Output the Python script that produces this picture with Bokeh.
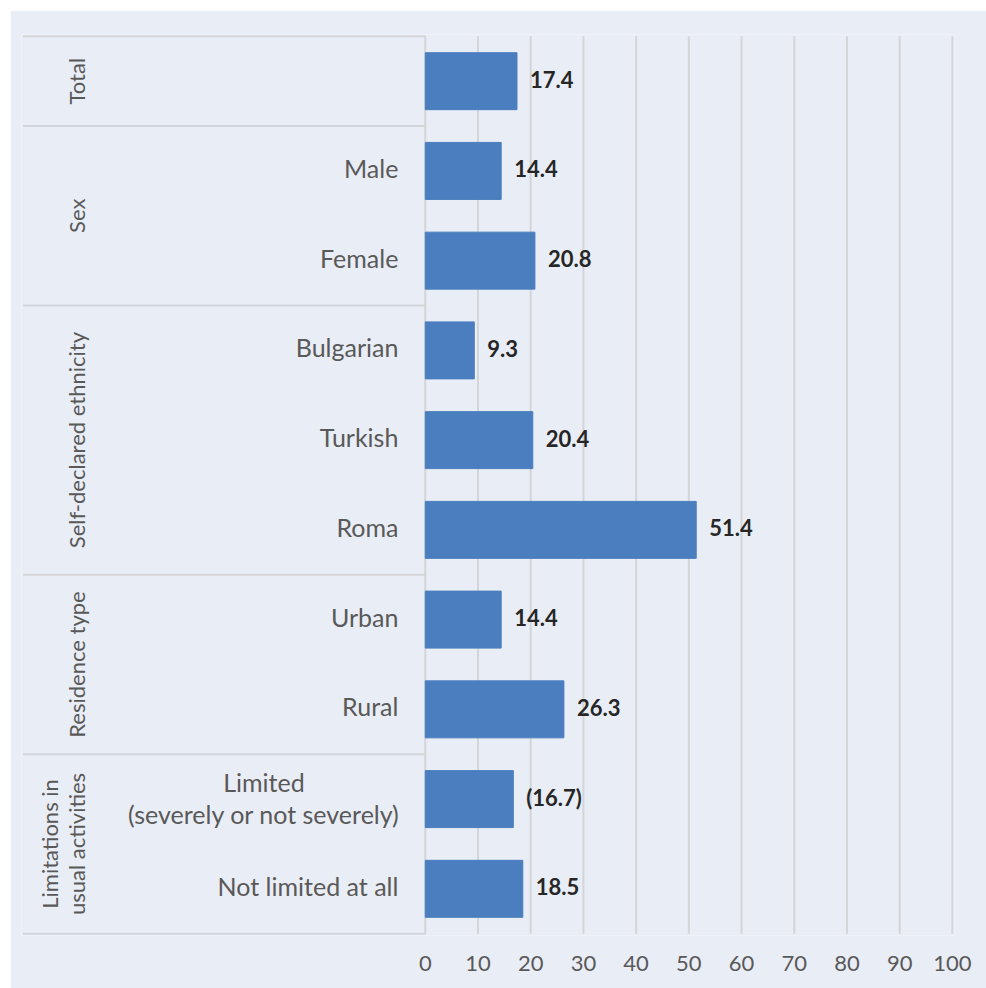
import math
from bokeh.plotting import figure
from bokeh.models import Range1d, FixedTicker
from bokeh.core.properties import value
from bokeh.embed import file_html
from bokeh.resources import INLINE

# ---- data ----
groups = ["Total", "Sex", "Self-declared ethnicity", "Residence type",
          "Limitations in\nusual activities"]
group_sizes = [1, 2, 3, 2, 2]
categories = ["", "Male", "Female", "Bulgarian", "Turkish", "Roma", "Urban", "Rural",
              "Limited\n(severely or not severely)", "Not limited at all"]
values = [17.4, 14.4, 20.8, 9.3, 20.4, 51.4, 14.4, 26.3, 16.7, 18.5]
low_reliability = [False, False, False, False, False, False, False, False, True, False]
x_ticks = [0, 10, 20, 30, 40, 50, 60, 70, 80, 90, 100]

# ---- style ----
BG = "#E9EDF5"
BAR = "#4A7EBF"
GRID = "#D3D5D9"
TXT = "#595959"
VAL = "#262626"
FONT = "Lato"

n = len(categories)
ys = [i + 0.5 for i in range(n)]
labels = [("(%.1f)" % v) if lr else ("%.1f" % v) for v, lr in zip(values, low_reliability)]

bounds = [0]
for s in group_sizes:
    bounds.append(bounds[-1] + s)
centers = [(bounds[i] + bounds[i + 1]) / 2 for i in range(len(group_sizes))]

X_START = -76.6
SEP_X0 = -76.3
CAT_X = -5.1          # right edge of category labels
CAT_X_MULTI = -30.6   # centre of multi-line category labels
GRP_X = -63.6

single = [(c, y) for c, y in zip(categories, ys) if "\n" not in c]
multi = [(c, y) for c, y in zip(categories, ys) if "\n" in c]

p = figure(width=976, height=978, output_backend="svg", toolbar_location=None,
           x_range=Range1d(X_START, 100.4), y_range=Range1d(n + 0.02, -0.02),
           y_axis_location=None)
p.margin = (10, 0, 0, 10)
p.min_border_left = 11
p.min_border_right = 32
p.min_border_top = 24
p.min_border_bottom = 53
p.background_fill_color = BG
p.border_fill_color = BG
p.outline_line_color = None
p.xgrid.visible = False
p.ygrid.visible = False

# grid lines
p.segment(x0=x_ticks, y0=[0] * len(x_ticks), x1=x_ticks, y1=[n] * len(x_ticks),
          line_color=GRID, line_width=2)
# separators in the label panel
p.segment(x0=[SEP_X0] * len(bounds), y0=bounds, x1=[0] * len(bounds), y1=bounds,
          line_color=GRID, line_width=2)

# bars
p.hbar(y=ys, left=0, right=values, height=0.635, fill_color=BAR, line_color=BAR)

# value labels
p.text(x=values, y=ys, text=labels, x_offset=13, y_offset=-2,
       text_align="left", text_baseline="middle",
       text_font=value(FONT), text_font_style="bold", text_font_size="22px", text_color=VAL)

# category labels
p.text(x=[CAT_X] * len(single), y=[y for _, y in single], text=[c for c, _ in single],
       y_offset=-3, text_align="right", text_baseline="middle",
       text_font=value(FONT), text_font_size="25px", text_color=TXT)
p.text(x=[CAT_X_MULTI] * len(multi), y=[y for _, y in multi], text=[c for c, _ in multi],
       y_offset=-1, text_align="center", text_baseline="middle",
       text_font=value(FONT), text_font_size="25px", text_color=TXT, text_line_height=1.05)

# group labels
p.text(x=[GRP_X] * len(groups), y=centers, text=groups, angle=math.pi / 2,
       text_align="center", text_baseline="bottom",
       text_font=value(FONT), text_font_size="22px", text_color=TXT, text_line_height=1.0)

ax = p.xaxis[0]
ax.ticker = FixedTicker(ticks=x_ticks)
ax.axis_line_color = None
ax.major_tick_line_color = None
ax.minor_tick_line_color = None
ax.major_label_standoff = 14
ax.major_label_text_font = FONT
ax.major_label_text_font_size = "22px"
ax.major_label_text_color = TXT

open("out.html", "w").write(file_html(p, INLINE))
